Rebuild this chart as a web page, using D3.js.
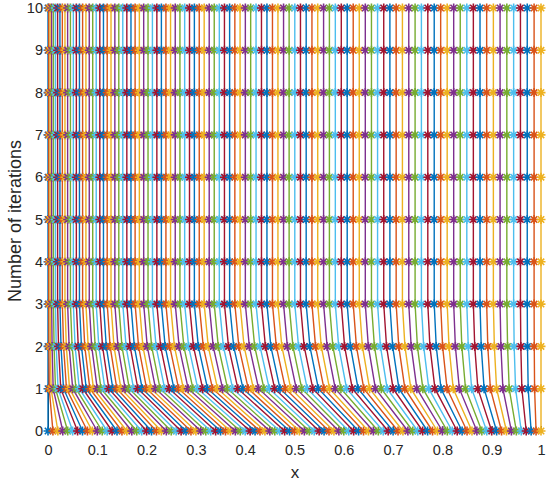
<!DOCTYPE html>
<html><head><meta charset="utf-8">
<script src="https://cdn.jsdelivr.net/npm/d3@7"></script>
<style>body{margin:0;background:#fff}svg{display:block}text{font-family:"Liberation Sans",Arial,sans-serif;fill:#262626}</style>
</head><body>
<svg id="c" width="550" height="483"></svg>
<script>
// Positions of the 101 points at each iteration
const x0 = [0,0.01,0.02,0.03,0.04,0.05,0.06,0.07,0.08,0.09,
 0.1,0.11,0.12,0.13,0.14,0.15,0.16,0.17,0.18,0.19,
 0.2,0.21,0.22,0.23,0.24,0.25,0.26,0.27,0.28,0.29,
 0.3,0.31,0.32,0.33,0.34,0.35,0.36,0.37,0.38,0.39,
 0.4,0.41,0.42,0.43,0.44,0.45,0.46,0.47,0.48,0.49,
 0.5,0.51,0.52,0.53,0.54,0.55,0.56,0.57,0.58,0.59,
 0.6,0.61,0.62,0.63,0.64,0.65,0.66,0.67,0.68,0.69,
 0.7,0.71,0.72,0.73,0.74,0.75,0.76,0.77,0.78,0.79,
 0.8,0.81,0.82,0.83,0.84,0.85,0.86,0.87,0.88,0.89,
 0.9,0.91,0.92,0.93,0.94,0.95,0.96,0.97,0.98,0.99,1];
const x1 = [0,0.0025,0.0062,0.0105,0.0152,0.0204,0.0258,0.0315,0.0375,0.0437,
 0.0501,0.0567,0.0635,0.0705,0.0776,0.0849,0.0923,0.0999,0.1076,0.1154,
 0.1234,0.1315,0.1397,0.148,0.1564,0.165,0.1736,0.1823,0.1911,0.2,
 0.2091,0.2182,0.2274,0.2366,0.246,0.2555,0.265,0.2746,0.2843,0.294,
 0.3039,0.3138,0.3237,0.3338,0.344,0.3542,0.3644,0.3747,0.3852,0.3956,
 0.4062,0.4167,0.4273,0.4381,0.4489,0.4598,0.4706,0.4815,0.4925,0.5036,
 0.5148,0.5259,0.5372,0.5485,0.5598,0.5712,0.5827,0.5942,0.6057,0.6173,
 0.629,0.6406,0.6524,0.6642,0.6761,0.688,0.7,0.7119,0.7239,0.736,
 0.7482,0.7604,0.7725,0.7849,0.7972,0.8095,0.822,0.8344,0.8469,0.8594,
 0.872,0.8846,0.8973,0.9099,0.9227,0.9355,0.9484,0.9612,0.974,0.987,1];
const x2 = [0,0.0019,0.0048,0.0083,0.0123,0.0167,0.0214,0.0264,0.0316,0.0372,
 0.0429,0.0489,0.055,0.0614,0.0679,0.0746,0.0815,0.0886,0.0957,0.1031,
 0.1106,0.1182,0.126,0.1338,0.1419,0.15,0.1583,0.1666,0.1751,0.1837,
 0.1925,0.2013,0.2102,0.2192,0.2284,0.2376,0.2469,0.2564,0.2659,0.2755,
 0.2852,0.295,0.3049,0.3149,0.325,0.3351,0.3454,0.3557,0.3661,0.3766,
 0.3871,0.3977,0.4084,0.4192,0.4301,0.441,0.452,0.4631,0.4743,0.4855,
 0.4968,0.5082,0.5196,0.5312,0.5427,0.5543,0.5661,0.5778,0.5896,0.6016,
 0.6135,0.6256,0.6377,0.6498,0.6621,0.6743,0.6867,0.6991,0.7115,0.724,
 0.7367,0.7493,0.762,0.7747,0.7875,0.8004,0.8134,0.8263,0.8394,0.8525,
 0.8656,0.8788,0.8921,0.9054,0.9187,0.9322,0.9456,0.9591,0.9726,0.9863,1];
const xFinal = [0,0.0016,0.0042,0.0074,0.011,0.0151,0.0195,0.0242,0.0291,0.0344,
 0.0398,0.0455,0.0514,0.0575,0.0638,0.0702,0.0769,0.0837,0.0907,0.0978,
 0.1051,0.1125,0.1201,0.1278,0.1356,0.1436,0.1517,0.1599,0.1683,0.1767,
 0.1853,0.1941,0.2029,0.2118,0.2208,0.23,0.2392,0.2486,0.2581,0.2676,
 0.2772,0.287,0.2969,0.3068,0.3168,0.327,0.3372,0.3475,0.3579,0.3684,
 0.379,0.3896,0.4003,0.4111,0.422,0.433,0.4441,0.4553,0.4664,0.4778,
 0.4891,0.5006,0.5121,0.5237,0.5354,0.5471,0.559,0.5708,0.5828,0.5949,
 0.6069,0.6191,0.6314,0.6436,0.6561,0.6685,0.681,0.6935,0.7062,0.7189,
 0.7318,0.7446,0.7574,0.7704,0.7834,0.7965,0.8097,0.8229,0.8362,0.8495,
 0.8628,0.8763,0.8898,0.9034,0.917,0.9307,0.9445,0.9583,0.9721,0.986,1];
const iterations = [0,1,2,3,4,5,6,7,8,9,10];
const xByIteration = [x0, x1, x2, xFinal, xFinal, xFinal, xFinal, xFinal, xFinal, xFinal, xFinal];
const xTicks = [0,0.1,0.2,0.3,0.4,0.5,0.6,0.7,0.8,0.9,1];
const yTicks = [0,1,2,3,4,5,6,7,8,9,10];
const colors = ["#0072BD","#D95319","#EDB120","#7E2F8E","#77AC30","#4DBEEE","#A2142F"];

const svg = d3.select("#c");
svg.append("rect").attr("width",550).attr("height",483).attr("fill","#fff");
const x = d3.scaleLinear().domain([0,1]).range([48,541]);
const y = d3.scaleLinear().domain([0,10]).range([431,8]);

const gx = svg.append("g").attr("transform","translate(0,431)")
  .call(d3.axisBottom(x).tickValues(xTicks).tickFormat(d3.format("~g")).tickSize(-5).tickPadding(14));
const gy = svg.append("g").attr("transform","translate(48,0)")
  .call(d3.axisLeft(y).tickValues(yTicks).tickSize(-5).tickPadding(5));
[gx,gy].forEach(g=>{g.selectAll("path,line").attr("stroke","#262626");g.selectAll("text").style("font-size","14.5px").attr("fill","#262626");});

const star = "M-4.5,0H4.5M0,-4.5V4.5M-3.2,-3.2L3.2,3.2M-3.2,3.2L3.2,-3.2";
const line = d3.line().x(d=>x(d[0])).y(d=>y(d[1]));
x0.forEach((_,i)=>{
  const c = colors[i%7];
  const pts = iterations.map((it,k)=>[xByIteration[k][i], it]);
  const g = svg.append("g");
  g.append("path").attr("d",line(pts)).attr("fill","none").attr("stroke",c).attr("stroke-width",1.4);
  g.selectAll("path.m").data(pts).join("path").attr("class","m")
    .attr("transform",d=>`translate(${x(d[0])},${y(d[1])})`).attr("d",star)
    .attr("stroke",c).attr("stroke-width",1.6).attr("fill","none");
});

svg.append("text").attr("x",295).attr("y",478).attr("text-anchor","middle").style("font-size","17px").text("x");
svg.append("text").attr("transform","translate(21,221) rotate(-90)").attr("text-anchor","middle").style("font-size","18px").text("Number of iterations");
</script>
</body></html>
